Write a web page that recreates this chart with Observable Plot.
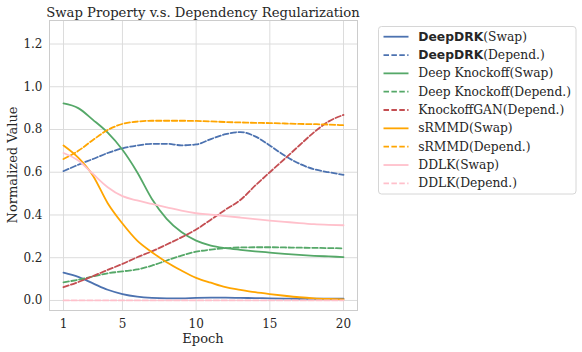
<!DOCTYPE html>
<html>
<head>
<meta charset="utf-8">
<script src="https://cdn.jsdelivr.net/npm/d3@7"></script>
<script src="https://cdn.jsdelivr.net/npm/@observablehq/plot@0.6"></script>
<style>
  html, body { margin: 0; padding: 0; background: #fff; }
  #chart { width: 582px; height: 352px; }
</style>
</head>
<body>
<div id="chart"></div>
<script>
const epochs = [1,2,3,4,5,6,7,8,9,10,11,12,13,14,15,16,17,18,19,20];

const deepdrkSwap   = [0.130,0.110,0.080,0.050,0.030,0.018,0.012,0.010,0.010,0.012,0.013,0.013,0.012,0.011,0.010,0.009,0.008,0.008,0.008,0.009];
const deepdrkDep    = [0.605,0.635,0.662,0.690,0.712,0.725,0.733,0.733,0.726,0.730,0.755,0.778,0.788,0.768,0.725,0.678,0.640,0.614,0.600,0.588];
const dkSwap        = [0.922,0.900,0.845,0.785,0.705,0.600,0.475,0.382,0.320,0.280,0.257,0.245,0.237,0.230,0.224,0.218,0.213,0.209,0.206,0.203];
const dkDep         = [0.085,0.097,0.112,0.127,0.136,0.145,0.163,0.187,0.210,0.228,0.238,0.245,0.248,0.249,0.249,0.248,0.247,0.246,0.245,0.244];
const kganDep       = [0.062,0.086,0.114,0.143,0.171,0.202,0.230,0.262,0.295,0.332,0.378,0.425,0.470,0.537,0.600,0.662,0.725,0.787,0.838,0.868];
const srmmdSwap     = [0.725,0.668,0.584,0.455,0.360,0.280,0.226,0.179,0.140,0.106,0.083,0.062,0.050,0.039,0.030,0.022,0.015,0.010,0.007,0.005];
const srmmdDep      = [0.662,0.700,0.751,0.798,0.826,0.837,0.841,0.841,0.841,0.840,0.838,0.835,0.833,0.831,0.830,0.828,0.826,0.825,0.823,0.820];
const ddlkSwap      = [0.690,0.655,0.592,0.530,0.488,0.468,0.452,0.436,0.420,0.408,0.402,0.395,0.388,0.381,0.374,0.368,0.362,0.357,0.354,0.352];
const ddlkDep       = [0,0,0,0,0,0,0,0,0,0,0,0,0,0,0,0,0,0,0,0];

const seriesNames = ["DeepDRK(Swap)","DeepDRK(Depend.)","Deep Knockoff(Swap)","Deep Knockoff(Depend.)","KnockoffGAN(Depend.)","sRMMD(Swap)","sRMMD(Depend.)","DDLK(Swap)","DDLK(Depend.)"];
const seriesValues = [deepdrkSwap, deepdrkDep, dkSwap, dkDep, kganDep, srmmdSwap, srmmdDep, ddlkSwap, ddlkDep];
const seriesColors = ["#4C72B0","#4C72B0","#55A868","#55A868","#C44E52","#FFA500","#FFA500","#FFC0CB","#FFC0CB"];
const seriesDashed = [false,true,false,true,true,false,true,false,true];

const xTicks = [1,5,10,15,20];
const yTicks = [0,0.2,0.4,0.6,0.8,1.0,1.2];

const titleText = "Swap Property v.s. Dependency Regularization";
const xLabel = "Epoch";
const yLabel = "Normalized Value";

const rows = [];
seriesNames.forEach((name, i) => {
  epochs.forEach((e, j) => rows.push({series: name, epoch: e, value: seriesValues[i][j]}));
});

const W = 582, H = 352;
const mL = 49, mR = 225, mT = 20, mB = 42;
const textColor = "#262626";
const serif = "'DejaVu Serif', serif";

const lineMarks = seriesNames.map((name, i) =>
  Plot.line(rows.filter(d => d.series === name), {
    x: "epoch", y: "value", stroke: "series",
    strokeWidth: 1.8,
    strokeDasharray: seriesDashed[i] ? "5.5,2.4" : null,
    curve: "monotone-x"
  })
);

const chart = Plot.plot({
  width: W, height: H,
  marginLeft: mL, marginRight: mR, marginTop: mT, marginBottom: mB,
  style: {fontFamily: serif, fontSize: "12px", color: textColor, background: "#fff"},
  x: {domain: [0.05, 20.95]},
  y: {domain: [-0.047, 1.31]},
  color: {domain: seriesNames, range: seriesColors},
  marks: [
    Plot.gridX(xTicks, {stroke: "#dcdcdc", strokeOpacity: 1, strokeWidth: 1}),
    Plot.gridY(yTicks, {stroke: "#dcdcdc", strokeOpacity: 1, strokeWidth: 1}),
    Plot.axisX(xTicks, {tickSize: 0, tickPadding: 9, label: null, fontSize: 12}),
    Plot.axisY(yTicks, {tickSize: 0, tickPadding: 7, label: null, tickFormat: d3.format(".1f"), fontSize: 12}),
    ...lineMarks,
    Plot.frame({stroke: "#cccccc", strokeWidth: 1})
  ]
});

document.getElementById("chart").appendChild(chart);

const svg = d3.select(chart);
const plotCx = mL + (W - mL - mR) / 2;

svg.append("text")
  .attr("x", plotCx).attr("y", 12)
  .attr("text-anchor", "middle").attr("dominant-baseline", "central")
  .attr("font-family", serif).attr("font-size", 13.2).attr("fill", textColor)
  .text(titleText);

svg.append("text")
  .attr("x", plotCx).attr("y", 338.5)
  .attr("text-anchor", "middle").attr("dominant-baseline", "central")
  .attr("font-family", serif).attr("font-size", 13).attr("fill", textColor)
  .text(xLabel);

svg.append("text")
  .attr("transform", `translate(12.5,${mT + (H - mT - mB) / 2}) rotate(-90)`)
  .attr("text-anchor", "middle").attr("dominant-baseline", "central")
  .attr("font-family", serif).attr("font-size", 13).attr("fill", textColor)
  .text(yLabel);

// Legend
const lg = svg.append("g").attr("text-anchor", "start");
lg.append("rect")
  .attr("x", 378.5).attr("y", 26.5).attr("width", 197.5).attr("height", 167.5)
  .attr("rx", 3).attr("fill", "#fff").attr("stroke", "#d6d6d6");
seriesNames.forEach((name, i) => {
  const y = 36.7 + i * 18.33;
  lg.append("line")
    .attr("x1", 383.5).attr("x2", 408.5).attr("y1", y).attr("y2", y)
    .attr("stroke", seriesColors[i]).attr("stroke-width", 1.8)
    .attr("stroke-dasharray", seriesDashed[i] ? "5.5,2.4" : null);
  const t = lg.append("text")
    .attr("x", 418.3).attr("y", y).attr("dominant-baseline", "central")
    .attr("text-anchor", "start")
    .attr("font-family", serif).attr("font-size", 12.3).attr("fill", textColor);
  const m = name.match(/^(DeepDRK)(.*)$/);
  if (m) {
    t.append("tspan").attr("font-family", "'DejaVu Sans', sans-serif").attr("font-weight", "bold").text(m[1]);
    t.append("tspan").text(m[2]);
  } else {
    t.text(name);
  }
});
</script>
</body>
</html>
